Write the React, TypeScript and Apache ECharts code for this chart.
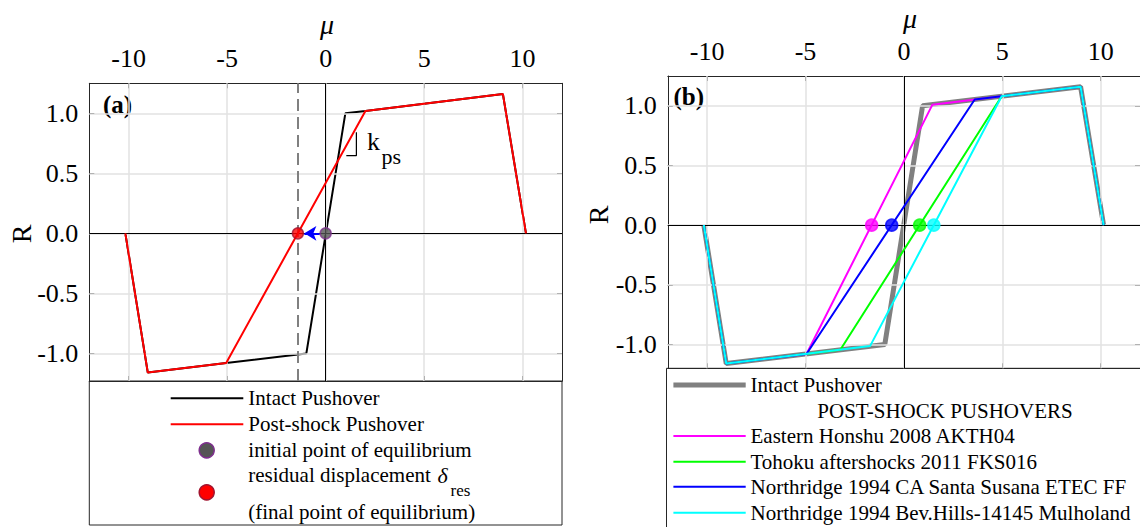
import React, { useEffect, useRef } from 'react';
import * as echarts from 'echarts';

// ---------- data ----------
const X_TICKS = [-10, -5, 0, 5, 10];
const Y_TICKS = [-1, -0.5, 0, 0.5, 1];

// panel (a)
const intactA = [[-10.17, 0], [-9.03, -1.16], [-5.05, -1.08], [-0.98, -1.0], [1.0, 1.0], [2.02, 1.02], [9.0, 1.16], [10.17, 0]];
const postShockA = [[-10.17, 0], [-9.03, -1.16], [-5.05, -1.08], [2.02, 1.02], [9.0, 1.16], [10.17, 0]];
const initialPointA = [[0, 0]];
const residualMu = -1.41;
const residualPointA = [[residualMu, 0]];
const arrowFrom = [-0.3, 0];
const arrowTo = [-1.08, 0];
const kpsBracket = [[1.05, 0.647], [1.56, 0.647], [1.56, 0.842]];

// panel (b)
const intactB = [[-10.17, 0], [-9.03, -1.16], [-0.97, -1.0], [0.95, 1.0], [8.98, 1.16], [10.15, 0]];
const honshu = [[-10.17, 0], [-9.03, -1.16], [-4.95, -1.08], [1.45, 1.01], [8.98, 1.16], [10.15, 0]];
const tohoku = [[-10.17, 0], [-9.03, -1.16], [-3.23, -1.044], [4.97, 1.08], [8.98, 1.16], [10.15, 0]];
const santaSusana = [[-10.17, 0], [-9.03, -1.16], [-4.95, -1.08], [3.6, 1.053], [8.98, 1.16], [10.15, 0]];
const bevHills = [[-10.17, 0], [-9.03, -1.16], [-1.72, -1.014], [4.97, 1.08], [8.98, 1.16], [10.15, 0]];
const resHonshu = [[-1.64, 0]];
const resTohoku = [[0.8, 0]];
const resSantaSusana = [[-0.62, 0]];
const resBevHills = [[1.52, 0]];

const legendA = ['Intact Pushover', 'Post-shock Pushover', 'initial point of equilibrium', 'residual displacement ', '(final point of equilibrium)'];
const legendBTitle = 'POST-SHOCK PUSHOVERS';
const legendB = ['Intact Pushover', 'Eastern Honshu 2008 AKTH04', 'Tohoku aftershocks 2011 FKS016', 'Northridge 1994 CA Santa Susana ETEC FF', 'Northridge 1994 Bev.Hills-14145 Mulholand'];

// ---------- style ----------
const FONT = '"Liberation Serif", "Times New Roman", Times, serif';
const AXC = '#262626';
const TXT = '#000000';
const GRIDC = '#e2e2e2';
const C_MAG = '#ff00ff';
const C_GRN = '#00ff00';
const C_BLU = '#0000ff';
const C_CYN = '#00ffff';
const C_GRY = '#808080';

function xAxes(gridIndex: number) {
  const base = {
    type: 'value', gridIndex, min: -12, max: 12,
    axisLine: { show: true, onZero: false, lineStyle: { color: AXC, width: 1 } },
    axisTick: { show: true, inside: true, length: 5, customValues: X_TICKS, lineStyle: { color: AXC } },
    splitLine: { show: false },
  };
  return [
    { ...base, position: 'top', axisLabel: { show: true, customValues: X_TICKS, fontSize: 26, fontFamily: FONT, color: TXT, margin: 12, formatter: (v: number) => String(v) } },
    { ...base, position: 'bottom', axisLabel: { show: false } },
  ];
}
function yAxes(gridIndex: number, min: number, max: number) {
  const base = {
    type: 'value', gridIndex, min, max,
    axisLine: { show: true, onZero: false, lineStyle: { color: AXC, width: 1 } },
    axisTick: { show: true, inside: true, length: 5, customValues: Y_TICKS, lineStyle: { color: AXC } },
    splitLine: { show: false },
  };
  return [
    { ...base, position: 'left', axisLabel: { show: true, customValues: Y_TICKS, fontSize: 26, fontFamily: FONT, color: TXT, margin: 11, formatter: (v: number) => v.toFixed(1) } },
    { ...base, position: 'right', axisLabel: { show: false } },
  ];
}

function helperSeries(xi: number, yi: number) {
  return [
    {
      type: 'line', xAxisIndex: xi, yAxisIndex: yi, data: [], z: 1, silent: true,
      markLine: {
        silent: true, symbol: 'none', label: { show: false }, animation: false,
        lineStyle: { color: GRIDC, width: 1.5, type: 'solid' },
        data: [...X_TICKS.map((v) => ({ xAxis: v })), ...Y_TICKS.map((v) => ({ yAxis: v }))],
      },
    },
    {
      type: 'line', xAxisIndex: xi, yAxisIndex: yi, data: [], z: 2, silent: true,
      markLine: {
        silent: true, symbol: 'none', label: { show: false }, animation: false,
        lineStyle: { color: '#000', width: 1, type: 'solid' },
        data: [{ xAxis: 0 }, { yAxis: 0 }],
      },
    },
  ];
}

function lineS(data: number[][], color: string, width: number, xi: number, yi: number, z: number) {
  return { type: 'line', data, xAxisIndex: xi, yAxisIndex: yi, symbol: 'none', z, silent: true, lineStyle: { color, width }, itemStyle: { color } };
}
function dotS(data: number[][], color: string, border: string, size: number, xi: number, yi: number, z: number) {
  return { type: 'scatter', data, xAxisIndex: xi, yAxisIndex: yi, symbol: 'circle', symbolSize: size, z, silent: true, itemStyle: { color, borderColor: border, borderWidth: 1.5 } };
}

function txt(x: number, y: number, text: string, font: string, align = 'left', extra: any = {}) {
  return { type: 'text', x, y, silent: true, ...extra, style: { text, font, fill: TXT, align, verticalAlign: 'middle' } };
}
function hline(x1: number, x2: number, y: number, color: string, width: number) {
  return { type: 'line', silent: true, shape: { x1, y1: y, x2, y2: y }, style: { stroke: color, lineWidth: width } };
}

export default function App() {
  const ref = useRef<HTMLDivElement>(null);
  useEffect(() => {
    if (!ref.current) return;
    const chart = echarts.init(ref.current, undefined, { renderer: 'svg' });
    const legFont = `21px ${FONT}`;
    const LA_X = 248.3;
    const LB_X = 750.5;
    const option: any = {
      animation: false,
      backgroundColor: '#ffffff',
      grid: [
        { left: 89.3, top: 83.3, width: 472.7, height: 297.7, containLabel: false },
        { left: 667.8, top: 76, width: 480, height: 292.3, containLabel: false },
      ],
      xAxis: [...xAxes(0), ...xAxes(1)],
      yAxis: [...yAxes(0, -1.23, 1.25), ...yAxes(1, -1.2, 1.25)],
      series: [
        ...helperSeries(0, 0),
        {
          type: 'line', xAxisIndex: 0, yAxisIndex: 0, data: [], z: 3, silent: true,
          markLine: {
            silent: true, symbol: 'none', label: { show: false }, animation: false,
            lineStyle: { color: C_GRY, width: 2, type: [12, 6] },
            data: [{ xAxis: residualMu }],
          },
        },
        lineS(intactA, '#000000', 2, 0, 0, 4),
        lineS(postShockA, '#ff0000', 2, 0, 0, 5),
        lineS(kpsBracket, '#000000', 1.2, 0, 0, 5),
        {
          type: 'line', xAxisIndex: 0, yAxisIndex: 0, data: [], z: 6, silent: true,
          markLine: {
            silent: true, symbol: ['none', 'arrow'], symbolSize: [11, 12], label: { show: false }, animation: false,
            lineStyle: { color: C_BLU, width: 2, type: 'solid' },
            data: [[{ coord: arrowFrom }, { coord: arrowTo }]],
          },
        },
        dotS(initialPointA, '#555555', '#7e2f8e', 11, 0, 0, 7),
        dotS(residualPointA, '#ff0000', '#a2142f', 11, 0, 0, 7),

        ...helperSeries(2, 2),
        lineS(intactB, C_GRY, 5, 2, 2, 4),
        lineS(honshu, C_MAG, 2, 2, 2, 5),
        lineS(tohoku, C_GRN, 2, 2, 2, 6),
        lineS(santaSusana, C_BLU, 2, 2, 2, 7),
        lineS(bevHills, C_CYN, 2, 2, 2, 8),
        dotS(resHonshu, C_MAG, C_MAG, 12, 2, 2, 9),
        dotS(resTohoku, C_GRN, C_GRN, 12, 2, 2, 9),
        dotS(resSantaSusana, C_BLU, C_BLU, 12, 2, 2, 9),
        dotS(resBevHills, C_CYN, C_CYN, 12, 2, 2, 9),
      ],
      graphic: [
        // axis titles
        txt(327, 24, 'μ', `italic 28px ${FONT}`, 'center'),
        txt(910, 18, 'μ', `italic 28px ${FONT}`, 'center'),
        txt(21.5, 234, 'R', `28px ${FONT}`, 'center', { rotation: Math.PI / 2 }),
        txt(598, 215, 'R', `28px ${FONT}`, 'center', { rotation: Math.PI / 2 }),
        // panel tags
        txt(103, 104, '(a)', `bold 25px ${FONT}`),
        txt(673.4, 96, '(b)', `bold 25px ${FONT}`),
        // k_ps
        txt(367, 141, 'k', `26px ${FONT}`),
        txt(381.5, 156.5, 'ps', `22px ${FONT}`),

        // legend (a)
        { type: 'rect', silent: true, shape: { x: 89.3, y: 381, width: 472.7, height: 144 }, style: { fill: '#fff', stroke: AXC, lineWidth: 1 }, z: -1 },
        hline(170.7, 243.3, 398.3, '#000', 2),
        txt(LA_X, 398.3, legendA[0], legFont),
        hline(170.7, 243.3, 424.3, '#ff0000', 2),
        txt(LA_X, 424.3, legendA[1], legFont),
        { type: 'circle', silent: true, shape: { cx: 206.7, cy: 450.3, r: 7.5 }, style: { fill: '#555555', stroke: '#7e2f8e', lineWidth: 1.5 } },
        txt(LA_X, 450.3, legendA[2], legFont),
        txt(LA_X, 475, legendA[3], legFont),
        txt(437.5, 475, 'δ', `italic 22px ${FONT}`),
        txt(450.5, 490, 'res', `17px ${FONT}`),
        { type: 'circle', silent: true, shape: { cx: 206.7, cy: 492.3, r: 7.5 }, style: { fill: '#ff0000', stroke: '#a2142f', lineWidth: 1.5 } },
        txt(LA_X, 511.7, legendA[4], legFont),

        // legend (b)
        { type: 'rect', silent: true, shape: { x: 666.5, y: 368.3, width: 500, height: 200 }, style: { fill: '#fff', stroke: AXC, lineWidth: 1 }, z: -1 },
        hline(673.4, 745.7, 385, C_GRY, 5),
        txt(LB_X, 385, legendB[0], legFont),
        txt(945, 410.7, legendBTitle, legFont, 'center'),
        hline(673.4, 745.7, 436, C_MAG, 2),
        txt(LB_X, 436, legendB[1], legFont),
        hline(673.4, 745.7, 461.7, C_GRN, 2),
        txt(LB_X, 461.7, legendB[2], legFont),
        hline(673.4, 745.7, 486.7, C_BLU, 2),
        txt(LB_X, 486.7, legendB[3], legFont),
        hline(673.4, 745.7, 512.7, C_CYN, 2),
        txt(LB_X, 512.7, legendB[4], legFont),
      ],
    };
    chart.setOption(option);
    return () => chart.dispose();
  }, []);
  return <div ref={ref} style={{ position: 'fixed', left: 0, top: 0, width: 1140, height: 527, background: '#fff' }} />;
}
